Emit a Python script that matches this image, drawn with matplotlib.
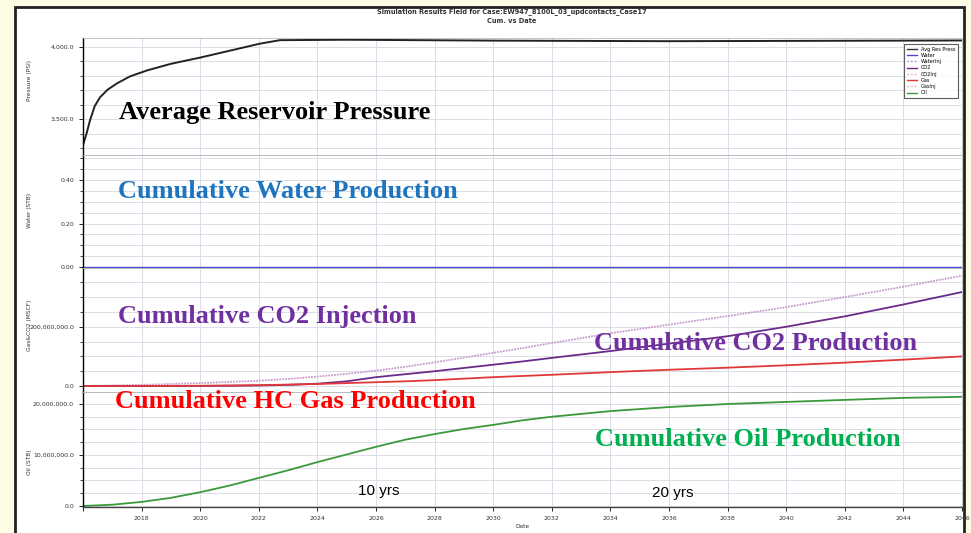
import matplotlib.pyplot as plt
import matplotlib.ticker as mticker
from matplotlib.lines import Line2D
from matplotlib.patches import Rectangle

# Data (decimal years)
p_years = [2016.0, 2016.12, 2016.24, 2016.4, 2016.58, 2016.85, 2017.16, 2017.6, 2018.18,
           2019.0, 2020.0, 2021.0, 2022.04, 2022.72, 2025.0, 2030.0, 2036.0, 2040.0, 2046.0]
pressure = [3322, 3400, 3493, 3590, 3651, 3705, 3747, 3795, 3836,
            3882, 3925, 3972, 4021, 4045, 4048, 4042, 4038, 4040, 4043]

years = [2016, 2017, 2018, 2019, 2020, 2021, 2022, 2023, 2024, 2025, 2026, 2027, 2028,
         2029, 2030, 2031, 2032, 2034, 2036, 2038, 2040, 2042, 2044, 2046]
water = [0, 0, 0, 0, 0, 0, 0, 0, 0, 0, 0, 0, 0, 0, 0, 0, 0, 0, 0, 0, 0, 0, 0, 0]
co2_inj = [0, 2e6, 4e6, 7e6, 10e6, 14e6, 18e6, 24e6, 32e6, 41e6, 52e6, 65e6, 80e6,
           96e6, 112e6, 128e6, 145e6, 178e6, 207e6, 236e6, 266e6, 300e6, 335e6, 372e6]
co2 = [0, 0.1e6, 0.2e6, 0.3e6, 0.5e6, 1e6, 2e6, 4e6, 8e6, 16e6, 30e6, 40e6, 50e6,
       61e6, 72e6, 83e6, 95e6, 118e6, 143e6, 168e6, 200e6, 235e6, 275e6, 317e6]
gas = [0, 0.2e6, 0.4e6, 0.7e6, 1e6, 2e6, 3e6, 5e6, 7e6, 10e6, 13e6, 16e6, 20e6,
       25e6, 30e6, 34e6, 38e6, 47e6, 55e6, 62e6, 70e6, 79e6, 89e6, 100e6]
oil = [0, 0.25e6, 0.8e6, 1.6e6, 2.7e6, 4.0e6, 5.5e6, 7.0e6, 8.6e6, 10.1e6, 11.6e6,
       13.0e6, 14.1e6, 15.1e6, 15.9e6, 16.8e6, 17.5e6, 18.6e6, 19.4e6, 20.0e6, 20.4e6,
       20.8e6, 21.2e6, 21.4e6]

W, H = 971, 533
fig = plt.figure(figsize=(W / 100, H / 100), dpi=100, facecolor='#fdfde6')

# white slide panel with dark border (bottom edge runs off the image)
fig.patches.append(Rectangle((15 / W, -0.02), (964 - 15) / W, 1.02 - 7 / H,
                             transform=fig.transFigure, facecolor='white',
                             edgecolor='#222222', lw=2, zorder=-5))


def px(x, y):
    return x / W, 1 - y / H


left, right = 83 / W, 962 / W
bounds = [(38, 155), (155, 268), (268, 392), (392, 507)]
axes = []
for top, bot in bounds:
    ax = fig.add_axes([left, 1 - bot / H, right - left, (bot - top) / H])
    axes.append(ax)
ax_p, ax_w, ax_g, ax_o = axes

grid_c = '#dcdce8'
for ax in axes:
    ax.set_xlim(2016, 2046)
    ax.xaxis.set_major_locator(mticker.MultipleLocator(2))
    ax.grid(True, which='both', color=grid_c, lw=0.7)
    ax.set_axisbelow(True)
    for s in ['top', 'right', 'bottom']:
        ax.spines[s].set_color('#bbbbbb')
        ax.spines[s].set_linewidth(0.6)
    ax.spines['left'].set_color('black')
    ax.spines['left'].set_linewidth(1.0)
    ax.tick_params(axis='y', which='major', direction='out', length=3, labelsize=4.5,
                   labelcolor='#333333', width=0.6)
    ax.tick_params(axis='y', which='minor', direction='out', length=2, width=0.5)
    ax.tick_params(axis='x', which='both', bottom=False, labelbottom=False)
    ax.patch.set_alpha(0)

ax_o.spines['bottom'].set_color('#444444')
ax_o.spines['bottom'].set_linewidth(1.0)
ax_o.tick_params(axis='x', bottom=True, labelbottom=True, direction='out', length=3,
                 labelsize=4.5, labelcolor='#333333', width=0.6)
ax_o.xaxis.set_major_formatter(
    mticker.FuncFormatter(lambda v, pos: f'{int(v)}' if v > 2016.5 else ''))

# curves
ax_p.plot(p_years, pressure, color='#222222', lw=1.4)
ax_w.plot(years, water, color='#4a4ad0', lw=1.0)
ax_g.plot(years, co2_inj, color='#c89ad0', lw=1.3, ls=(0, (1, 0.6)))
ax_g.plot(years, co2, color='#6a2a8a', lw=1.3)
ax_g.plot(years, gas, color='#e03838', lw=1.3)
ax_o.plot(years, oil, color='#3a9a3a', lw=1.3)

ax_p.set_ylim(3253, 4060)
ax_p.yaxis.set_major_locator(mticker.MultipleLocator(500))
ax_p.yaxis.set_minor_locator(mticker.MultipleLocator(100))
ax_p.yaxis.set_major_formatter(mticker.FuncFormatter(lambda v, pos: f'{v:,.1f}'))

ax_w.set_ylim(-0.005, 0.516)
ax_w.yaxis.set_major_locator(mticker.MultipleLocator(0.2))
ax_w.yaxis.set_minor_locator(mticker.MultipleLocator(0.05))
ax_w.yaxis.set_major_formatter(mticker.FuncFormatter(lambda v, pos: f'{v:.2f}'))

ax_g.set_ylim(-20e6, 398e6)
ax_g.yaxis.set_major_locator(mticker.MultipleLocator(200e6))
ax_g.yaxis.set_minor_locator(mticker.MultipleLocator(50e6))
ax_g.yaxis.set_major_formatter(mticker.FuncFormatter(lambda v, pos: f'{v:,.1f}'))

ax_o.set_ylim(-0.2e6, 22.35e6)
ax_o.yaxis.set_major_locator(mticker.MultipleLocator(10e6))
ax_o.yaxis.set_minor_locator(mticker.MultipleLocator(2.5e6))
ax_o.yaxis.set_major_formatter(mticker.FuncFormatter(lambda v, pos: f'{v:,.1f}'))

# legend
handles = [
    Line2D([], [], color='#333333', lw=1.0),
    Line2D([], [], color='#4a4ad0', lw=1.0),
    Line2D([], [], color='#7a7ae0', lw=1.0, ls=':'),
    Line2D([], [], color='#6a2a8a', lw=1.0),
    Line2D([], [], color='#d8a0e0', lw=1.0, ls=':'),
    Line2D([], [], color='#e03838', lw=1.0),
    Line2D([], [], color='#f0a0a0', lw=1.0, ls=':'),
    Line2D([], [], color='#3a9a3a', lw=1.0),
]
labels = ['Avg Res Press', 'Water', 'WaterInj', 'CO2', 'CO2Inj', 'Gas', 'GasInj', 'Oil']
leg = ax_p.legend(handles, labels, loc='upper right', fontsize=3.6, frameon=True,
                  fancybox=False, edgecolor='#333333', handlelength=2.0,
                  labelspacing=0.25, borderpad=0.5, bbox_to_anchor=(0.998, 0.97))
leg.get_frame().set_linewidth(0.8)
leg.set_zorder(5)

# titles and axis labels
fig.text(*px(512, 12), 'Simulation Results Field for Case:EW947_8100L_03_updcontacts_Case17',
         ha='center', va='center', fontsize=4.8, fontweight='bold', color='#333333')
fig.text(*px(512, 21), 'Cum. vs Date', ha='center', va='center', fontsize=4.8,
         fontweight='bold', color='#333333')
fig.text(*px(522, 527), 'Date', ha='center', va='center', fontsize=4.2, color='#333333')
for y, lab in [(80, 'Pressure (PSI)'), (210, 'Water (STB)'), (325, 'Gas&CO2 (MSCF)'),
               (462, 'Oil (STB)')]:
    fig.text(*px(29, y), lab, rotation=90, ha='center', va='center', fontsize=4.2,
             color='#333333')

# annotations
serif = dict(family='Liberation Serif', fontweight='bold', fontsize=19, va='center', ha='left')
fig.text(*px(119, 113), 'Average Reservoir Pressure', color='black', **serif)
fig.text(*px(118, 192), 'Cumulative Water Production', color='#1f74bf', **serif)
fig.text(*px(118, 316), 'Cumulative CO2 Injection', color='#7030a0', **serif)
fig.text(*px(594, 344), 'Cumulative CO2 Production', color='#7030a0', **serif)
fig.text(*px(115, 402), 'Cumulative HC Gas Production', color='#ff0000', **serif)
fig.text(*px(595, 439), 'Cumulative Oil Production', color='#00b050', **serif)
fig.text(*px(379, 491), '10 yrs', family='Liberation Sans', fontsize=11, ha='center',
         va='center', color='black')
fig.text(*px(673, 493), '20 yrs', family='Liberation Sans', fontsize=11, ha='center',
         va='center', color='black')

fig.savefig('out.png', dpi=100, facecolor=fig.get_facecolor())
